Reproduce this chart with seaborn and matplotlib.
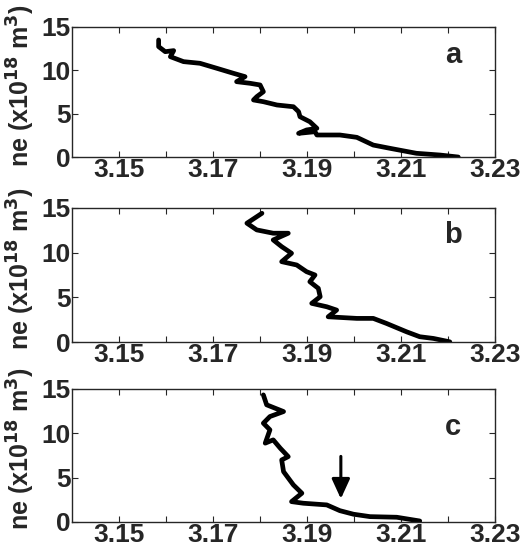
import numpy as np
import pandas as pd
import matplotlib
matplotlib.use("Agg")
import matplotlib.pyplot as plt
import seaborn as sns

# 三个剖面 (a, b, c)：横轴为位置 (m)，纵轴为电子密度 ne (x10^18 m^-3)
x_a = [3.1584, 3.1584, 3.1598, 3.1616, 3.1609, 3.1637, 3.1672, 3.1708, 3.1743,
       3.1768, 3.1750, 3.1779, 3.1800, 3.1807, 3.1793, 3.1786, 3.1807, 3.1836,
       3.1871, 3.1882, 3.1885, 3.1906, 3.1921, 3.1899, 3.1882, 3.1917, 3.1921,
       3.1970, 3.2006, 3.2041, 3.2077, 3.2133, 3.2183, 3.2222]
y_a = [13.5, 12.73, 12.15, 12.27, 11.57, 11.0, 10.81, 10.23, 9.66,
       9.27, 8.69, 8.5, 8.31, 7.53, 6.96, 6.58, 6.38, 6.0,
       5.8, 5.23, 4.65, 4.07, 3.31, 3.12, 2.73, 2.92, 2.54,
       2.54, 2.27, 1.38, 1.0, 0.43, 0.23, 0.0]

x_b = [3.1804, 3.1772, 3.1793, 3.1828, 3.1860, 3.1828, 3.1846, 3.1867, 3.1846,
       3.1878, 3.1899, 3.1917, 3.1906, 3.1924, 3.1928, 3.1910, 3.1942, 3.1963,
       3.1945, 3.2006, 3.2041, 3.2069, 3.2112, 3.2140, 3.2169, 3.2204]
y_b = [14.4, 13.29, 12.54, 12.17, 12.17, 11.42, 10.67, 9.93, 8.99,
       8.62, 7.87, 7.5, 6.75, 6.01, 5.07, 4.33, 3.95, 3.58,
       2.83, 2.65, 2.65, 2.09, 1.15, 0.6, 0.41, 0.03]

x_c = [3.1807, 3.1814, 3.1850, 3.1821, 3.1807, 3.1821, 3.1811, 3.1828, 3.1843,
       3.1860, 3.1846, 3.1850, 3.1871, 3.1889, 3.1867, 3.1892, 3.1942, 3.1970,
       3.1999, 3.2034, 3.2091, 3.2140]
y_c = [14.32, 13.2, 12.44, 11.88, 11.13, 10.38, 8.88, 9.25, 8.31,
       7.36, 6.99, 5.67, 4.17, 3.24, 2.29, 2.11, 1.92, 1.27,
       0.87, 0.6, 0.53, 0.11]

panel_labels = ["a", "b", "c"]
label_y = [11.8, 12.0, 10.7]
x_major = [3.15, 3.17, 3.19, 3.21, 3.23]
x_minor = [3.16, 3.18, 3.20, 3.22]
y_ticks = [0, 5, 10, 15]
# 图 c 中的箭头 (x, 起点 y, 终点 y)
arrow_x, arrow_y0, arrow_y1 = 3.1972, 7.7, 2.3

sns.set_style("ticks")
plt.rcParams["font.family"] = ["Liberation Sans", "DejaVu Sans"]
plt.rcParams["font.weight"] = "bold"

fig = plt.figure(figsize=(5.31, 5.5), dpi=100)
boxes = [(0.136, 0.7145, 0.796, 0.2365),
         (0.136, 0.378, 0.796, 0.244),
         (0.136, 0.051, 0.796, 0.242)]
data = [(x_a, y_a), (x_b, y_b), (x_c, y_c)]

for i, (box, (xs, ys)) in enumerate(zip(boxes, data)):
    ax = fig.add_axes(box)
    df = pd.DataFrame({"x": xs, "y": ys})
    sns.lineplot(data=df, x="x", y="y", sort=False, estimator=None,
                 color="black", linewidth=3.4, ax=ax)
    ax.set_xlim(3.14, 3.23)
    ax.set_ylim(0, 15)
    ax.set_xticks(x_major)
    ax.set_xticklabels([f"{v:.2f}" for v in x_major])
    ax.set_xticks(x_minor, minor=True)
    ax.set_yticks(y_ticks)
    ax.tick_params(which="both", direction="in", top=True, right=True,
                   length=4, width=0.8, labelsize=19, pad=1)
    for lab in ax.get_xticklabels() + ax.get_yticklabels():
        lab.set_fontweight("bold")
    for sp in ax.spines.values():
        sp.set_linewidth(1.0)
    ax.set_xlabel("")
    ax.set_ylabel("ne (x10$^{18}$ m$^{3}$)", fontsize=18, fontweight="bold",
                  labelpad=0)
    ax.yaxis.set_label_coords(-0.083, 0.55)
    ax.text(3.2211, label_y[i], panel_labels[i], fontsize=21, fontweight="bold",
            ha="center", va="center")
    if i == 2:
        ax.annotate("", xy=(arrow_x, arrow_y1), xytext=(arrow_x, arrow_y0),
                    arrowprops=dict(arrowstyle="-|>,head_length=1.2,head_width=0.55",
                                    color="black", lw=2.2))

fig.savefig("out.png", dpi=100)
